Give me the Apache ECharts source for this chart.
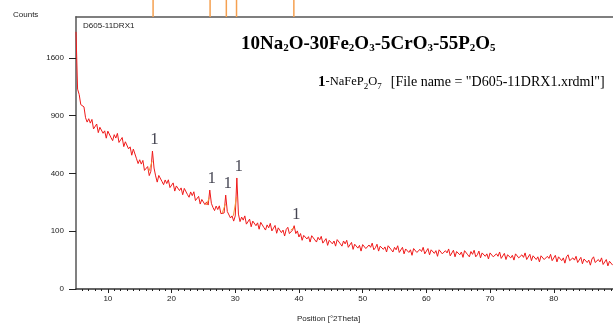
<!DOCTYPE html>
<html>
<head>
<meta charset="UTF-8">
<title>XRD D605-11DRX1</title>
<style>
  html, body { margin: 0; padding: 0; background: #fff; }
  #box { width: 613px; height: 323px; }
</style>
</head>
<body>
<div id="box"></div>
<script src="https://cdn.jsdelivr.net/npm/echarts@6/dist/echarts.min.js"></script>
<script>
// scan: 2theta from startAngle, one reading every stepAngle
var startAngle = 5;
var stepAngle = 0.25;
var counts = [
  1980, 1196, 1133, 1018,   // 5
  1012, 993, 878, 834,      // 6
  868, 824, 861, 767,       // 7
  775, 815, 732, 783,       // 8
  796, 726, 749, 681,       // 9
  746, 758, 685, 659,       // 10
  713, 682, 725, 643,       // 11
  654, 687, 607, 649,       // 12
  656, 588, 605, 536,       // 13
  586, 584, 508, 471,       // 14
  500, 467, 495, 421,       // 15
  423, 449, 385, 415,       // 16
  570, 438, 383, 342,       // 17
  386, 394, 346, 326,       // 18
  356, 333, 357, 308,       // 19
  317, 337, 287, 318,       // 20
  328, 290, 306, 266,       // 21
  303, 309, 267, 252,       // 22
  282, 261, 283, 234,       // 23
  237, 257, 216, 240,       // 24
  246, 213, 227, 211,       // 25
  293, 220, 199, 184,       // 26
  206, 189, 207, 170,       // 27
  177, 173, 264, 180,       // 28
  185, 151, 160, 138,       // 29
  160, 369, 168, 136,       // 30
  155, 142, 160, 126,       // 31
  130, 146, 116, 138,       // 32
  145, 120, 131, 107,       // 33
  133, 139, 113, 104,       // 34
  123, 112, 129, 101,       // 35
  108, 121, 93, 112,        // 36
  118, 95, 104, 84,         // 37
  106, 114, 92, 93,         // 38
  104, 120, 92, 101,        // 39
  81, 92, 71, 86,           // 40
  91, 75, 82, 66,           // 41
  85, 90, 72, 66,           // 42
  80, 72, 83, 63,           // 43
  66, 76, 57, 71,           // 44
  76, 61, 69, 55,           // 45
  73, 78, 61, 55,           // 46
  69, 61, 71, 52,           // 47
  56, 65, 47, 60,           // 48
  64, 50, 57, 43,           // 49
  59, 64, 49, 45,           // 50
  58, 52, 63, 46,           // 51
  51, 60, 43, 55,           // 52
  60, 47, 53, 41,           // 53
  56, 60, 46, 41,           // 54
  52, 46, 56, 40,           // 55
  43, 52, 37, 48,           // 56
  52, 40, 46, 34,           // 57
  49, 53, 40, 36,           // 58
  47, 42, 52, 37,           // 59
  41, 49, 35, 46,           // 60
  50, 38, 44, 32,           // 61
  46, 50, 37, 33,           // 62
  44, 39, 48, 33,           // 63
  37, 45, 31, 42,           // 64
  46, 35, 41, 30,           // 65
  44, 48, 35, 31,           // 66
  42, 36, 45, 31,           // 67
  35, 43, 29, 39,           // 68
  43, 32, 37, 27,           // 69
  39, 43, 31, 28,           // 70
  37, 32, 41, 28,           // 71
  31, 38, 26, 35,           // 72
  39, 29, 34, 25,           // 73
  37, 41, 29, 26,           // 74
  35, 30, 39, 26,           // 75
  29, 36, 24, 33,           // 76
  36, 26, 31, 22,           // 77
  33, 37, 26, 23,           // 78
  32, 28, 36, 24,           // 79
  27, 34, 22, 31,           // 80
  34, 24, 29, 20,           // 81
  31, 35, 24, 21,           // 82
  29, 25, 32, 21,           // 83
  24, 30, 19, 27,           // 84
  30, 21, 25, 17,           // 85
  27, 31, 21, 18,           // 86
  26, 22, 29, 18,           // 87
  20, 26, 16, 23,           // 88
  26, 17                    // 89
];

// NaFeP2O7 reference lines (phase 1)
var peakAngles = [17.1, 26.05, 28.6, 30.2, 39.2];
var peakLabel = '1';

var xTickLabels = [10, 20, 30, 40, 50, 60, 70, 80];
var yTickLabels = [0, 100, 400, 900, 1600];

var xMin = 5, xMax = 89.3;
var yMaxCounts = 2215;

// counts are drawn on a square-root axis
function sq(v) { return Math.sqrt(v); }

var scan = counts.map(function (c, i) {
  return [startAngle + i * stepAngle, sq(c)];
});

function nearestIndex(a) {
  return Math.round((a - startAngle) / stepAngle);
}

var minorTicks = [];
for (var t = 6; t < xMax; t++) {
  if (t % 10 !== 0) minorTicks.push(t);
}

var box = document.getElementById('box');
var myechart = echarts.init(box, null, { renderer: 'canvas' });

var serif = 'Liberation Serif, Times New Roman, serif';
var sans = 'Liberation Sans, Arial, sans-serif';

var series = [{
  name: 'scan',
  type: 'line',
  xAxisIndex: 0,
  yAxisIndex: 0,
  data: scan,
  symbol: 'none',
  lineStyle: { color: '#ef1a1a', width: 1 },
  z: 3,
  animation: false
}];

// orange marks at the foot of the matched peaks
peakAngles.forEach(function (a) {
  var i = nearestIndex(a);
  series.push({
    type: 'line',
    xAxisIndex: 0,
    yAxisIndex: 0,
    symbol: 'none',
    data: [
      [scan[i - 1][0] - 0.3, scan[i - 1][1]],
      scan[i - 1],
      [scan[i][0] - 0.05, (scan[i - 1][1] + scan[i][1]) / 2]
    ],
    lineStyle: { color: '#f59a3c', width: 1 },
    z: 4,
    animation: false
  });
});

// "1" labels over each peak
series.push({
  type: 'scatter',
  xAxisIndex: 0,
  yAxisIndex: 0,
  symbolSize: 0,
  data: peakAngles.map(function (a) { return scan[nearestIndex(a)]; }),
  label: {
    show: true,
    position: 'top',
    distance: 3,
    offset: [2, 0],
    formatter: peakLabel,
    fontFamily: serif,
    fontSize: 17,
    color: '#151525'
  },
  z: 5,
  animation: false
});

// reference sticks above the plot
series.push({
  type: 'bar',
  xAxisIndex: 2,
  yAxisIndex: 1,
  barWidth: 1.5,
  data: peakAngles.map(function (a) { return [a, 1]; }),
  itemStyle: { color: '#f5a050' },
  animation: false
});

var option = {
  backgroundColor: '#fff',
  animation: false,
  title: [{
    text: '10Na{s|2}O-30Fe{s|2}O{s|3}-5CrO{s|3}-55P{s|2}O{s|5}',
    left: 236,
    top: 30,
    textStyle: {
      fontFamily: serif, fontSize: 19, fontWeight: 'bold', color: '#000',
      rich: { s: { fontFamily: serif, fontSize: 11, fontWeight: 'bold', verticalAlign: 'bottom', lineHeight: 14 } }
    }
  }, {
    text: '{b|1}{m|-NaFeP}{ms|2}{m|O}{ms|7}  {f|[File name = "D605-11DRX1.xrdml"]}',
    left: 313,
    top: 68,
    textStyle: {
      fontFamily: serif, fontWeight: 'normal', color: '#000',
      rich: {
        b: { fontFamily: serif, fontSize: 15, fontWeight: 'bold', color: '#000' },
        m: { fontFamily: serif, fontSize: 12.5, fontWeight: 'normal', color: '#000' },
        ms: { fontFamily: serif, fontSize: 9, fontWeight: 'normal', color: '#000', verticalAlign: 'bottom', lineHeight: 11 },
        f: { fontFamily: serif, fontSize: 14, fontWeight: 'normal', color: '#000' }
      }
    }
  }, {
    text: 'Counts',
    left: 8, top: 6,
    textStyle: { fontFamily: sans, fontSize: 8, fontWeight: 'normal', color: '#222' }
  }, {
    text: 'D605-11DRX1',
    left: 78, top: 17,
    textStyle: { fontFamily: sans, fontSize: 8, fontWeight: 'normal', color: '#222' }
  }, {
    text: 'Position [°2Theta]',
    left: 292, top: 310,
    textStyle: { fontFamily: sans, fontSize: 8, fontWeight: 'normal', color: '#222' }
  }],
  grid: [
    { left: 76, right: 0, top: 17, bottom: 34 },
    { left: 76, right: 0, top: 0, height: 17 }
  ],
  xAxis: [{
    gridIndex: 0,
    type: 'value',
    min: xMin, max: xMax,
    axisLine: { lineStyle: { color: '#333', width: 1.5 } },
    axisTick: { customValues: xTickLabels, length: 4, lineStyle: { color: '#222' } },
    axisLabel: { customValues: xTickLabels, fontFamily: sans, fontSize: 8, color: '#222', margin: 6 },
    splitLine: { show: false }
  }, {
    gridIndex: 0,
    type: 'value',
    position: 'bottom',
    min: xMin, max: xMax,
    axisLine: { show: false },
    axisTick: { customValues: minorTicks, length: 2, lineStyle: { color: '#222' } },
    axisLabel: { show: false },
    splitLine: { show: false }
  }, {
    gridIndex: 1,
    type: 'value',
    min: xMin, max: xMax,
    axisLine: { lineStyle: { color: '#555', width: 1.5 } },
    axisTick: { show: false },
    axisLabel: { show: false },
    splitLine: { show: false }
  }],
  yAxis: [{
    gridIndex: 0,
    type: 'value',
    min: 0, max: sq(yMaxCounts),
    axisLine: { show: true, lineStyle: { color: '#808080', width: 2 } },
    axisTick: { show: true, customValues: yTickLabels.map(sq), length: 7, lineStyle: { color: '#222' } },
    axisLabel: {
      customValues: yTickLabels.map(sq),
      formatter: function (v) { return String(Math.round(v * v)); },
      fontFamily: sans, fontSize: 8, color: '#222', margin: 12
    },
    splitLine: { show: false }
  }, {
    gridIndex: 1,
    type: 'value',
    min: 0, max: 1,
    show: false
  }],
  series: series
};

myechart.setOption(option);
</script>
</body>
</html>
